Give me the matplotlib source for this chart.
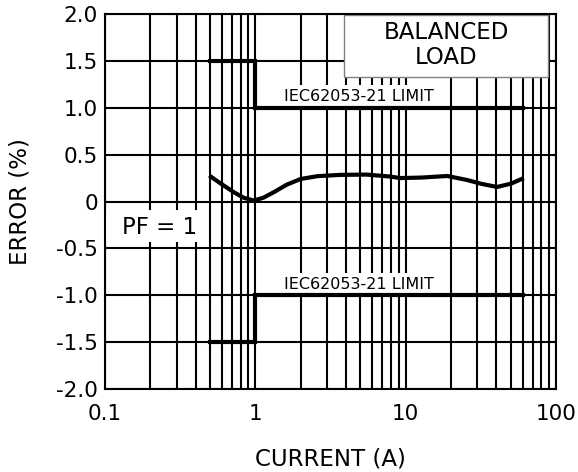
import matplotlib
matplotlib.use("Agg")
import matplotlib.pyplot as plt
from matplotlib.ticker import LogLocator, FixedLocator, NullFormatter
from matplotlib.patches import Rectangle

# Data
curve_x = [0.494, 0.584, 0.718, 0.836, 0.977, 1.13, 1.33, 1.62, 2.0, 2.58, 3.67, 5.5, 7.9,
           9.2, 12.6, 18.9, 25.5, 31.6, 40.5, 50.1, 61.0]
curve_y = [0.277, 0.195, 0.10, 0.04, 0.01, 0.04, 0.10, 0.18, 0.24, 0.27, 0.284, 0.287, 0.266,
           0.25, 0.255, 0.272, 0.23, 0.19, 0.155, 0.19, 0.25]
limit_x = [0.5, 1.0, 1.0, 60.0]
upper_limit = [1.5, 1.5, 1.0, 1.0]
lower_limit = [-1.5, -1.5, -1.0, -1.0]
xticks = [0.1, 1, 10, 100]
xtick_labels = ["0.1", "1", "10", "100"]
yticks = [-2.0, -1.5, -1.0, -0.5, 0, 0.5, 1.0, 1.5, 2.0]
ytick_labels = ["-2.0", "-1.5", "-1.0", "-0.5", "0", "0.5", "1.0", "1.5", "2.0"]

plt.rcParams['font.family'] = ['DejaVu Sans']
fig = plt.figure(figsize=(5.78, 4.72), dpi=100)
ax = fig.add_axes([105/578, 1-389/472, 451/578, 375/472])
ax.set_xscale('log')
ax.set_xlim(0.1, 100)
ax.set_ylim(-2, 2)

ax.xaxis.set_major_locator(FixedLocator(xticks))
ax.set_xticklabels(xtick_labels)
ax.xaxis.set_minor_locator(LogLocator(base=10, subs=[2, 3, 4, 5, 6, 7, 8, 9], numticks=20))
ax.xaxis.set_minor_formatter(NullFormatter())
ax.set_yticks(yticks)
ax.set_yticklabels(ytick_labels)

ax.set_axisbelow(True)
ax.grid(True, which='both', axis='x', color='black', lw=1.5)
ax.grid(True, which='major', axis='y', color='black', lw=1.5)
ax.tick_params(which='both', length=0, labelsize=15.5)
ax.tick_params(axis='x', pad=11)
ax.tick_params(axis='y', pad=5)
for s in ax.spines.values():
    s.set_linewidth(1.5)

ax.plot(limit_x, upper_limit, color='black', lw=3, solid_joinstyle='miter', zorder=3)
ax.plot(limit_x, lower_limit, color='black', lw=3, solid_joinstyle='miter', zorder=3)
ax.plot(curve_x, curve_y, color='black', lw=3, solid_joinstyle='round',
        solid_capstyle='butt', zorder=3)

txt_bbox = dict(facecolor='white', edgecolor='none', pad=3)
ax.text(1.55, 1.035, "IEC62053-21 LIMIT", fontsize=11.5, ha='left', va='bottom',
        zorder=2, bbox=txt_bbox)
ax.text(1.55, -0.965, "IEC62053-21 LIMIT", fontsize=11.5, ha='left', va='bottom',
        zorder=2, bbox=txt_bbox)

ax.add_patch(Rectangle((0.53, 0.832), 0.452, 0.165, transform=ax.transAxes,
                       facecolor='white', edgecolor='#808080', lw=1, zorder=1))
ax.text(0.757, 0.917, "BALANCED\nLOAD", transform=ax.transAxes, fontsize=16.5,
        ha='center', va='center', linespacing=1.1, zorder=4)
ax.add_patch(Rectangle((0.0, 0.392), 0.225, 0.085, transform=ax.transAxes,
                       facecolor='white', edgecolor='none', zorder=1))
ax.text(0.122, 0.432, "PF = 1", transform=ax.transAxes, fontsize=16.5,
        ha='center', va='center', zorder=4)

ax.set_xlabel("CURRENT (A)", fontsize=16.5, labelpad=17)
ax.set_ylabel("ERROR (%)", fontsize=16.5, labelpad=18)

fig.savefig("out.png", dpi=100)
